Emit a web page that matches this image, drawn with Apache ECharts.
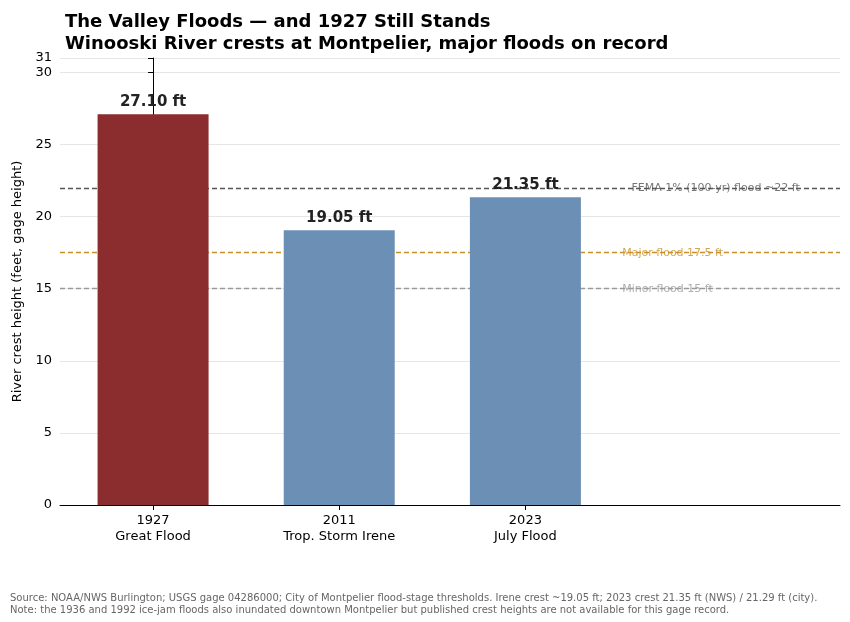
<!DOCTYPE html>
<html><head><meta charset="utf-8">
<script src="https://cdn.jsdelivr.net/npm/echarts@6/dist/echarts.min.js"></script>
<style>body{margin:0}#c{width:850px;height:622px}</style>
</head><body><div id="c"></div>
<script>
var years = ['1927', '2011', '2023'];
var names = ['Great Flood', 'Trop. Storm Irene', 'July Flood'];
var crests = [27.10, 19.05, 21.35];
var barColors = ['#8B2C2E', '#6B8FB5', '#6B8FB5'];
var thresholdValues = [22, 17.5, 15];
var thresholdNames = ['FEMA 1% (100-yr) flood ~22 ft', 'Major flood 17.5 ft', 'Minor flood 15 ft'];
var thresholdColors = ['#555555', '#C8902A', '#999999'];
var thresholdLabelX = [2.57, 2.52, 2.52];

var chart = echarts.init(document.getElementById('c'));
var font = 'DejaVu Sans';

var series = [{
  type: 'bar',
  barWidth: 111,
  data: crests.map(function (v, i) {
    return { value: [i, v], itemStyle: { color: barColors[i] } };
  }),
  label: {
    show: true, position: 'top', distance: 5, fontFamily: font,
    fontWeight: 'bold', fontSize: 15, color: '#222',
    formatter: function (p) { return p.value[1].toFixed(2) + ' ft'; }
  },
  markLine: {
    symbol: 'none', silent: true, z: 1,
    label: { show: false },
    data: thresholdValues.map(function (v, i) {
      return { yAxis: v, lineStyle: { color: thresholdColors[i], type: [5, 3], width: 1.3 } };
    })
  }
}, {
  type: 'scatter',
  symbolSize: 0,
  z: 5,
  data: thresholdValues.map(function (v, i) {
    return {
      value: [thresholdLabelX[i], v],
      label: {
        show: true, position: 'right', distance: 0, fontFamily: font,
        fontSize: 11, color: thresholdColors[i], formatter: thresholdNames[i]
      }
    };
  })
}];

chart.setOption({
  animation: false,
  title: {
    text: 'The Valley Floods — and 1927 Still Stands\nWinooski River crests at Montpelier, major floods on record',
    left: 60, top: 6,
    textStyle: { fontFamily: font, fontSize: 18, fontWeight: 'bold', color: '#000', lineHeight: 22 }
  },
  graphic: [{
    type: 'text', left: 10, top: 592,
    style: {
      text: 'Source: NOAA/NWS Burlington; USGS gage 04286000; City of Montpelier flood-stage thresholds. Irene crest ~19.05 ft; 2023 crest 21.35 ft (NWS) / 21.29 ft (city).\nNote: the 1936 and 1992 ice-jam floods also inundated downtown Montpelier but published crest heights are not available for this gage record.',
      font: '10px "DejaVu Sans"', fill: '#666', lineHeight: 12
    }
  }],
  grid: { left: 60, right: 10, top: 58, bottom: 117 },
  xAxis: {
    type: 'value', min: -0.5, max: 3.69,
    splitLine: { show: false },
    axisLine: { lineStyle: { color: '#000' } },
    axisTick: { show: true, customValues: [0, 1, 2], lineStyle: { color: '#000' } },
    axisLabel: {
      customValues: [0, 1, 2], fontFamily: font, fontSize: 13, color: '#000', lineHeight: 16,
      formatter: function (v) { return years[v] + '\n' + names[v]; }
    }
  },
  yAxis: {
    type: 'value', min: 0, max: 31, interval: 5,
    name: 'River crest height (feet, gage height)', nameLocation: 'middle', nameGap: 32,
    nameTextStyle: { fontFamily: font, fontSize: 13, color: '#000' },
    axisLine: { show: true, lineStyle: { color: '#000' } },
    axisTick: { show: true, lineStyle: { color: '#000' } },
    axisLabel: { fontFamily: font, fontSize: 13, color: '#000' },
    splitLine: { lineStyle: { color: '#e6e6e6' } }
  },
  series: series
});
</script></body></html>
